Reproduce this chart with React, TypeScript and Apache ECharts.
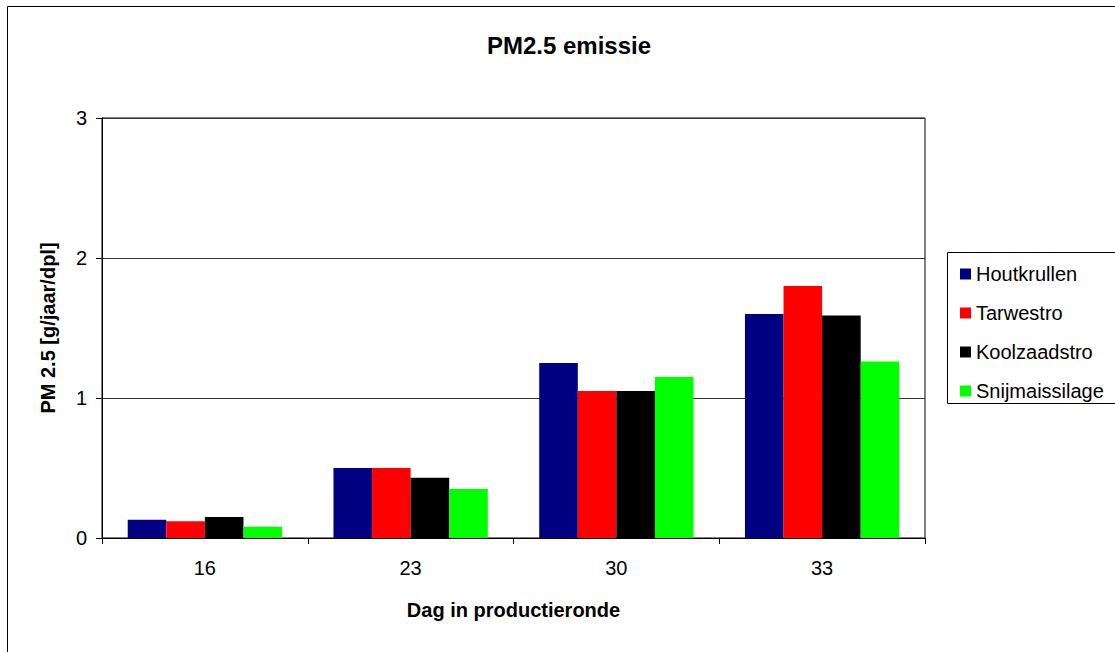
import React, { useEffect, useRef } from 'react';
import * as echarts from 'echarts';

const days = ['16', '23', '30', '33'];
const seriesNames = ['Houtkrullen', 'Tarwestro', 'Koolzaadstro', 'Snijmaissilage'];
const houtkrullen = [0.13, 0.5, 1.25, 1.6];
const tarwestro = [0.12, 0.5, 1.05, 1.8];
const koolzaadstro = [0.15, 0.43, 1.05, 1.59];
const snijmaissilage = [0.08, 0.35, 1.15, 1.26];
const colors = ['#000080', '#FF0000', '#000000', '#00FF00'];

const FONT = '"Liberation Sans", Arial, sans-serif';

const App: React.FC = () => {
  const chartRef = useRef<HTMLDivElement>(null);

  useEffect(() => {
    document.body.style.margin = '0';
    const chart = echarts.init(chartRef.current!, undefined, { renderer: 'svg' });
    const values = [houtkrullen, tarwestro, koolzaadstro, snijmaissilage];

    const option = {
      animation: false,
      backgroundColor: '#fff',
      textStyle: { fontFamily: FONT },
      title: {
        text: 'PM2.5 emissie',
        left: 564,
        top: 28,
        textAlign: 'center',
        textStyle: { fontFamily: FONT, fontSize: 24, fontWeight: 'bold', color: '#000' },
      },
      graphic: [
        {
          type: 'rect',
          z: -1,
          shape: { x: 7.5, y: 6.5, width: 1120, height: 660 },
          style: { fill: 'none', stroke: '#000', lineWidth: 1 },
        },
        {
          type: 'rect',
          z: 0,
          shape: { x: 947.5, y: 252.5, width: 200, height: 151 },
          style: { fill: '#fff', stroke: '#000', lineWidth: 1 },
        },
      ],
      legend: {
        orient: 'vertical',
        left: 955,
        top: 259,
        itemWidth: 11,
        itemHeight: 11,
        itemGap: 19,
        icon: 'rect',
        data: seriesNames,
        textStyle: {
          fontFamily: FONT,
          fontSize: 20,
          lineHeight: 19,
          color: '#000',
          padding: [0, 0, 0, 0],
        },
      },
      grid: {
        left: 102,
        right: 190,
        top: 118,
        bottom: 114,
        show: true,
        borderColor: '#000',
        borderWidth: 1,
        backgroundColor: 'transparent',
      },
      xAxis: {
        type: 'category',
        data: days,
        name: 'Dag in productieronde',
        nameLocation: 'middle',
        nameGap: 62,
        nameTextStyle: { fontFamily: FONT, fontSize: 20, fontWeight: 'bold', color: '#000' },
        axisLine: { lineStyle: { color: '#000', width: 1 } },
        axisTick: { show: true, length: 6, lineStyle: { color: '#000' } },
        axisLabel: { fontFamily: FONT, fontSize: 20, color: '#000', margin: 20 },
      },
      yAxis: {
        type: 'value',
        min: 0,
        max: 3,
        interval: 1,
        name: 'PM 2.5 [g/jaar/dpl]',
        nameLocation: 'middle',
        nameGap: 44,
        nameTextStyle: { fontFamily: FONT, fontSize: 20, fontWeight: 'bold', color: '#000' },
        axisLine: { show: true, lineStyle: { color: '#000', width: 1 } },
        axisTick: { show: true, length: 6, lineStyle: { color: '#000' } },
        axisLabel: { fontFamily: FONT, fontSize: 20, color: '#000', margin: 15 },
        splitLine: { show: true, lineStyle: { color: '#333', width: 1 } },
      },
      series: seriesNames.map((name, i) => ({
        name,
        type: 'bar',
        data: values[i],
        barGap: '0%',
        barCategoryGap: '25%',
        itemStyle: { color: colors[i] },
      })),
    };

    chart.setOption(option);

    return () => {
      chart.dispose();
    };
  }, []);

  return <div ref={chartRef} style={{ width: '1115px', height: '652px' }} />;
};

export default App;
